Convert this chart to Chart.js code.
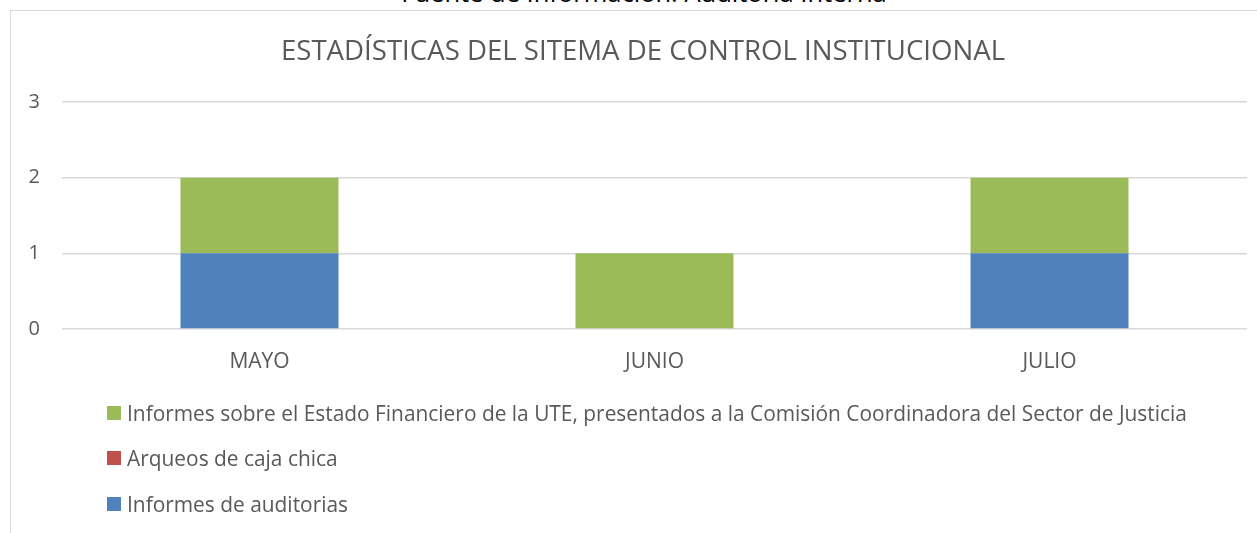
<!DOCTYPE html>
<html>
<head>
<meta charset="utf-8">
<script src="https://cdn.jsdelivr.net/npm/chart.js@4/dist/chart.umd.min.js"></script>
<style>
    body { margin: 0; width: 1257px; height: 533px; overflow: hidden; background: #fff; position: relative; font-family: "Open Sans", sans-serif; }
    #source { position: absolute; left: 0; width: 1288px; top: -20px; line-height: 24px; text-align: center; font-size: 25.5px; color: #000; }
    #frame { position: absolute; left: 10px; top: 10px; width: 1300px; height: 600px; border: 1px solid #d9d9d9; background: #fff; }
    #wrap { position: absolute; left: 11px; top: 11px; width: 1264px; height: 380px; }
    #legend { position: absolute; left: 107px; top: 390px; color: #595959; font-size: 20.9px; }
    #legend div { height: 45.5px; display: flex; align-items: center; white-space: nowrap; }
    #legend span.box { display: inline-block; width: 14px; height: 14px; margin-right: 6px; }
</style>
</head>
<body>
<div id="source">Fuente de Información: Auditoria Interna</div>
<div id="frame"></div>
<div id="wrap"><canvas id="chart"></canvas></div>
<div id="legend"></div>
<script>
// data
const months = ['MAYO', 'JUNIO', 'JULIO'];
const auditorias = [1, 0, 1];
const arqueos = [0, 0, 0];
const estadoFinanciero = [1, 1, 1];
const yTicks = [0, 1, 2, 3];

const seriesNames = [
    'Informes de auditorias',
    'Arqueos de caja chica',
    'Informes sobre el Estado Financiero de la UTE, presentados a la Comisión Coordinadora del Sector de Justicia'
];
const seriesColors = ['#4f81bd', '#c0504d', '#9bbb59'];

const ctx = document.getElementById('chart').getContext('2d');

const chart = new Chart(ctx, {
    type: 'bar',
    data: {
        labels: months,
        datasets: [auditorias, arqueos, estadoFinanciero].map((vals, i) => ({
            label: seriesNames[i],
            data: vals,
            backgroundColor: seriesColors[i],
            borderWidth: 0,
            barPercentage: 1,
            categoryPercentage: 0.4
        }))
    },
    options: {
        responsive: true,
        maintainAspectRatio: false,
        animation: false,
        layout: { padding: { bottom: 2 } },
        scales: {
            x: {
                stacked: true,
                afterFit: (scale) => { scale.height = 60; },
                grid: { display: false },
                border: { display: false },
                ticks: { color: '#595959', font: { family: 'Open Sans', size: 21 }, padding: 12, maxRotation: 0 }
            },
            y: {
                stacked: true,
                min: 0,
                max: 3,
                afterBuildTicks: (scale) => { scale.ticks = yTicks.map(v => ({ value: v })); },
                afterFit: (scale) => { scale.width = 51; },
                grid: { color: '#d9d9d9', lineWidth: 1.5, drawTicks: false },
                border: { display: false },
                ticks: { color: '#595959', font: { family: 'Open Sans', size: 20 }, padding: 22 }
            },
            // empty spacer on the right so the title centres like the original
            spacer: {
                position: 'right',
                afterFit: (scale) => { scale.width = 28; },
                grid: { display: false },
                border: { display: false },
                ticks: { display: false }
            }
        },
        plugins: {
            legend: { display: false },
            tooltip: { enabled: false },
            title: {
                display: true,
                text: 'ESTADÍSTICAS DEL SITEMA DE CONTROL INSTITUCIONAL',
                color: '#595959',
                font: { family: 'Open Sans', size: 27.6, weight: 'normal' },
                padding: { top: 24.5, bottom: 33.4 }
            }
        }
    }
});

// legend in reverse order, one item per line
const legendEl = document.getElementById('legend');
chart.data.datasets.slice().reverse().forEach(ds => {
    const row = document.createElement('div');
    row.innerHTML = '<span class="box" style="background:' + ds.backgroundColor + '"></span><span>' + ds.label + '</span>';
    legendEl.appendChild(row);
});
</script>
</body>
</html>
